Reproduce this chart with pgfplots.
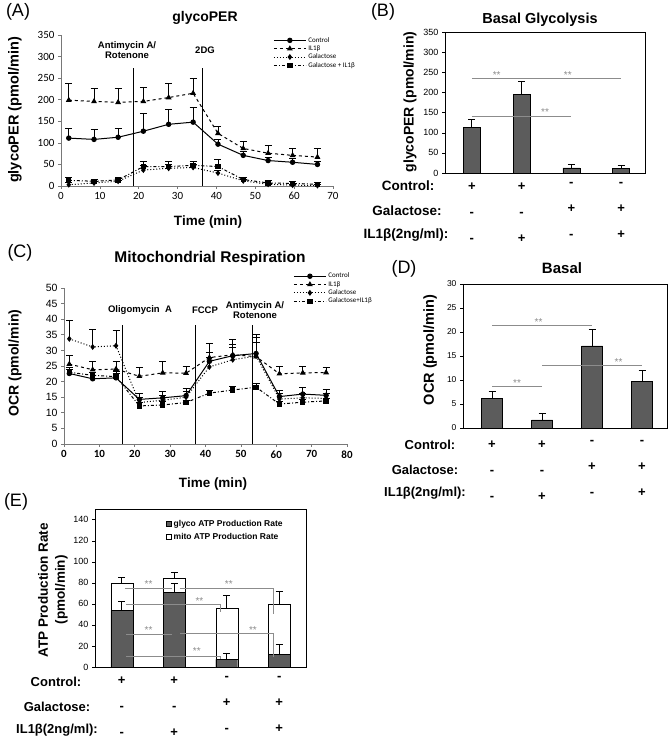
\documentclass[border=0pt]{standalone}
\usepackage{fontspec}
\setmainfont{Liberation Sans}
\newfontfamily\calfont{Carlito}
\usepackage{pgfplots}
\pgfplotsset{compat=1.18}
\definecolor{barg}{RGB}{92,92,92}
\definecolor{sig}{RGB}{140,140,140}
\definecolor{axg}{RGB}{120,120,120}
\newcommand{\fs}[1]{\fontsize{#1}{#1}\selectfont}
\tikzset{sg/.style={sig, font=\fs{10}}}
\pgfplotsset{
  common/.style={scale only axis, anchor=south west, clip=false,
    tick align=outside, major tick length=3pt,
    /pgf/number format/assume math mode=true},
  lineaxis/.style={common, axis lines*=left, axis line style={axg, line width=0.7pt}, tick style={axg, line width=0.7pt}},
  baraxis/.style={common, ybar, axis line style={black, line width=0.8pt}, ytick pos=left, xtick={0,1,2,3},
     major x tick style={draw=none}, tick style={black},
     xticklabels={{+\\-\\-},{+\\-\\+},{-\\+\\-},{-\\+\\+}},
     xticklabel style={align=center, font=\bfseries\fontsize{13}{26}\selectfont}},
  eb/.style={error bars/.cd, y dir=plus, y explicit, error bar style={line width=0.9pt, solid, black}, error mark options={rotate=90, mark size=3.5pt, line width=0.9pt, solid, black}},
  ser/.style={black, line width=1pt},
  sqlegend/.style={legend image code/.code={\draw[##1,line width=0.6pt] (0pt,-2.5pt) rectangle (5pt,2.5pt);}},
  longlegend/.style={legend image code/.code={\draw[mark repeat=2,mark phase=2] plot coordinates {(0pt,0pt) (16pt,0pt) (32pt,0pt)};}},
}
\begin{document}
\begin{tikzpicture}
\path[use as bounding box] (0,0) rectangle (669pt,740pt);

% ---------------- Panel A ----------------
\begin{axis}[lineaxis, at={(61pt,554pt)}, width=272pt, height=151pt,
  xmin=0, xmax=70, ymin=0, ymax=350, xtick={0,10,...,70}, ytick={0,50,...,350},
  tick label style={font=\calfont\fs{11}},
  legend style={at={(axis description cs:0.78,1.0)}, anchor=north west, draw=none, fill=none,
    font=\calfont\fs{7}, inner sep=0pt, row sep=-2pt},
  legend cell align=left, longlegend]
\addplot[ser, mark=*, mark size=2.2pt, eb] coordinates {
 (2,111)+-(0,23) (8.5,108)+-(0,22) (14.7,113)+-(0,21) (21.2,127)+-(0,41) (27.7,143)+-(0,35) (34,148)+-(0,34)
 (40.4,97)+-(0,12) (46.9,71)+-(0,8) (53.3,59)+-(0,8) (59.6,55)+-(0,8) (66,50)+-(0,8)};
\addlegendentry{Control}
\addplot[ser, dashed, mark=triangle*, mark size=2.4pt, mark options={solid}, eb] coordinates {
 (2,199)+-(0,39) (8.5,196)+-(0,31) (14.7,194)+-(0,32) (21.2,196)+-(0,33) (27.7,205)+-(0,33) (34,215)+-(0,35)
 (40.4,122)+-(0,16) (46.9,87)+-(0,16) (53.3,76)+-(0,17) (59.6,71)+-(0,16) (66,67)+-(0,19)};
\addlegendentry{IL1β}
\addplot[ser, dotted, mark=diamond*, mark size=2.2pt, mark options={solid}, eb] coordinates {
 (2,3)+-(0,5) (8.5,7)+-(0,4) (14.7,11)+-(0,3) (21.2,37)+-(0,10) (27.7,41)+-(0,8) (34,43)+-(0,8)
 (40.4,30)+-(0,6) (46.9,12)+-(0,4) (53.3,4)+-(0,3) (59.6,2)+-(0,2) (66,1)+-(0,2)};
\addlegendentry{Galactose}
\addplot[ser, dash dot, mark=square*, mark size=2.2pt, mark options={solid}, eb] coordinates {
 (2,13)+-(0,6) (8.5,11)+-(0,5) (14.7,14)+-(0,4) (21.2,45)+-(0,12) (27.7,45)+-(0,11) (34,48)+-(0,10)
 (40.4,45)+-(0,16) (46.9,15)+-(0,5) (53.3,7)+-(0,5) (59.6,6)+-(0,4) (66,4)+-(0,4)};
\addlegendentry{Galactose + IL1β}
\draw[black, line width=1pt] (axis cs:18.6,0) -- (axis cs:18.6,273);
\draw[black, line width=1pt] (axis cs:36.3,0) -- (axis cs:36.3,273);
\end{axis}

% ---------------- Panel B ----------------
\begin{axis}[baraxis, at={(445pt,567pt)}, width=200pt, height=141pt,
  xmin=-0.54, xmax=3.48, ymin=0, ymax=350, ytick={0,50,...,350}, bar width=17pt,
  yticklabel style={font=\fs{9}}, xticklabel style={yshift=-3pt}]
\addplot[fill=barg, draw=black, eb] coordinates {(0,113)+-(0,21) (1,195)+-(0,33) (2,13)+-(0,8) (3,12)+-(0,7)};
\draw[sig, line width=0.7pt] (axis cs:0,235) -- (axis cs:1,235);
\draw[sig, line width=0.7pt] (axis cs:1,235) -- (axis cs:3,235);
\draw[sig, line width=0.7pt] (axis cs:0,140) -- (axis cs:2,140);
\node[sg] at (axis cs:0.5,242) {**};
\node[sg] at (axis cs:1.93,242) {**};
\node[sg] at (axis cs:1.47,151) {**};
\end{axis}

% ---------------- Panel C ----------------
\begin{axis}[lineaxis, at={(64pt,296pt)}, width=283pt, height=156pt,
  xmin=0, xmax=80, ymin=0, ymax=50, xtick={0,10,...,80}, ytick={0,5,...,50},
  yticklabel style={font=\fs{10.5}}, xticklabel style={font=\calfont\bfseries\fs{11}},
  legend style={at={(axis description cs:0.81,1.11)}, anchor=north west, draw=none, fill=none,
    font=\calfont\fs{7}, inner sep=0pt, row sep=-2pt},
  legend cell align=left, longlegend]
\addplot[ser, mark=*, mark size=2.2pt, eb] coordinates {
 (1.5,22.6)+-(0,2) (8.1,20.9)+-(0,2) (14.7,21.2)+-(0,2) (21.3,14.3)+-(0,2) (27.9,14.8)+-(0,2) (34.5,15.5)+-(0,2.2)
 (41.1,26.5)+-(0,3) (47.7,28.3)+-(0,3.5) (54.3,29.0)+-(0,3.5) (60.9,15.2)+-(0,2) (67.5,16.0)+-(0,2) (74.1,15.6)+-(0,2)};
\addlegendentry{Control}
\addplot[ser, dashed, mark=triangle*, mark size=2.4pt, mark options={solid}, eb] coordinates {
 (1.5,25.6)+-(0,2.7) (8.1,23.8)+-(0,2.5) (14.7,24.0)+-(0,2.3) (21.3,21.7)+-(0,2.7) (27.9,22.8)+-(0,3.6) (34.5,22.7)+-(0,2)
 (41.1,27.7)+-(0,4.4) (47.7,28.6)+-(0,5) (54.3,28.0)+-(0,7) (60.9,22.5)+-(0,2.3) (67.5,22.8)+-(0,1.9) (74.1,22.9)+-(0,1.7)};
\addlegendentry{IL1β}
\addplot[ser, dotted, mark=diamond*, mark size=2.2pt, mark options={solid}, eb] coordinates {
 (1.5,33.7)+-(0,6) (8.1,31.1)+-(0,5.7) (14.7,31.5)+-(0,5) (21.3,13.3)+-(0,1.5) (27.9,14.0)+-(0,1.5) (34.5,15.0)+-(0,2)
 (41.1,24.7)+-(0,3) (47.7,27.0)+-(0,4) (54.3,28.2)+-(0,6) (60.9,14.4)+-(0,1.7) (67.5,14.8)+-(0,1.5) (74.1,14.6)+-(0,1.5)};
\addlegendentry{Galactose}
\addplot[ser, dash dot, mark=square*, mark size=2.2pt, mark options={solid}, eb] coordinates {
 (1.5,23.0)+-(0,1) (8.1,22.0)+-(0,1) (14.7,21.6)+-(0,1) (21.3,12.2)+-(0,1) (27.9,12.5)+-(0,1) (34.5,13.3)+-(0,0.8)
 (41.1,16.3)+-(0,1) (47.7,17.3)+-(0,1) (54.3,18.2)+-(0,1.3) (60.9,12.8)+-(0,0.8) (67.5,13.4)+-(0,0.8) (74.1,13.8)+-(0,0.8)};
\addlegendentry{Galactose+IL1β}
\draw[black, line width=1pt] (axis cs:16.5,0) -- (axis cs:16.5,38);
\draw[black, line width=1pt] (axis cs:37.1,0) -- (axis cs:37.1,38);
\draw[black, line width=1pt] (axis cs:53.3,0) -- (axis cs:53.3,38);
\end{axis}

% ---------------- Panel D ----------------
\begin{axis}[baraxis, at={(463pt,312pt)}, width=204pt, height=144pt,
  xmin=-0.58, xmax=3.5, ymin=0, ymax=30, ytick={0,5,...,30}, bar width=21pt,
  yticklabel style={font=\fs{8.5}}, xticklabel style={yshift=-6pt}]
\addplot[fill=barg, draw=black, eb] coordinates {(0,6.2)+-(0,1.5) (1,1.7)+-(0,1.3) (2,17.1)+-(0,3.5) (3,9.7)+-(0,2.2)};
\draw[sig, line width=0.7pt] (axis cs:0,21.3) -- (axis cs:2,21.3);
\draw[sig, line width=0.7pt] (axis cs:1,13.1) -- (axis cs:3,13.1);
\draw[sig, line width=0.7pt] (axis cs:0,8.7) -- (axis cs:1,8.7);
\node[sg] at (axis cs:0.93,22.0) {**};
\node[sg] at (axis cs:2.53,13.8) {**};
\node[sg] at (axis cs:0.5,9.4) {**};
\end{axis}

% ---------------- Panel E ----------------
\begin{axis}[baraxis, at={(95pt,73pt)}, width=211pt, height=158pt,
  xmin=-0.51, xmax=3.51, ymin=0, ymax=150, ytick={0,20,...,140}, bar width=22pt,
  yticklabel style={font=\fs{9}}, xticklabel style={yshift=-3pt}, reverse legend,
  legend style={at={(axis description cs:0.336,0.943)}, anchor=north west, draw=none, fill=none,
    font=\bfseries\fs{8.5}, inner sep=0pt, row sep=1pt},
  legend cell align=left]
\addplot[fill=white, draw=black, bar shift=0pt, sqlegend, eb]
  coordinates {(0,79.8)+-(0,4.8) (1,84.6)+-(0,4.7) (2,56.0)+-(0,12) (3,59.2)+-(0,12.7)};
\addlegendentry{mito ATP Production Rate}
\addplot[fill=barg, draw=black, bar shift=0pt, sqlegend, eb]
  coordinates {(0,53.8)+-(0,8.6) (1,70.6)+-(0,9) (2,7.3)+-(0,6) (3,11.7)+-(0,9.5)};
\addlegendentry{glyco ATP Production Rate}
\draw[sig, line width=0.7pt] (axis cs:0.06,75) -- (axis cs:0.95,75);
\draw[sig, line width=0.7pt] (axis cs:1.1,75) -- (axis cs:2.89,75) -- (axis cs:2.89,50.6);
\draw[sig, line width=0.7pt] (axis cs:0.08,59.6) -- (axis cs:1.87,59.6) -- (axis cs:1.87,52.3);
\draw[sig, line width=0.7pt] (axis cs:0.08,30.7) -- (axis cs:0.95,30.7);
\draw[sig, line width=0.7pt] (axis cs:1.11,31.7) -- (axis cs:2.89,31.7) -- (axis cs:2.89,9.5);
\draw[sig, line width=0.7pt] (axis cs:0.08,10.4) -- (axis cs:1.88,10.4) -- (axis cs:1.88,7.9);
\node[sg] at (axis cs:0.51,79) {**};
\node[sg] at (axis cs:2.04,79) {**};
\node[sg] at (axis cs:1.48,63) {**};
\node[sg] at (axis cs:0.51,35) {**};
\node[sg] at (axis cs:2.5,35) {**};
\node[sg] at (axis cs:1.43,15) {**};
\end{axis}

% ---------------- Text in image coordinates ----------------
\begin{scope}[shift={(0,740pt)}, x=1pt, y=-1pt]
% A
\node[font=\fs{18}] at (18,12) {(A)};
\node[font=\bfseries\fs{14}] at (205,18) {glycoPER};
\node[font=\bfseries\fs{14.5}, rotate=90] at (15,110) {glycoPER (pmol/min)};
\node[font=\bfseries\fs{13.5}] at (208,222) {Time (min)};
\node[font=\bfseries\fontsize{9.5}{10.5}\selectfont, align=center] at (127,50) {Antimycin A/\\Rotenone};
\node[font=\bfseries\fs{9.5}] at (205,50) {2DG};
% B
\node[font=\fs{18}] at (383,12) {(B)};
\node[font=\bfseries\fs{14.5}] at (540,20) {Basal Glycolysis};
\node[font=\bfseries\fs{14}, rotate=90] at (410,102) {glycoPER (pmol/min)};
\node[font=\bfseries\fs{13.5}] at (408,186) {Control:};
\node[font=\bfseries\fs{13.5}] at (407,211) {Galactose:};
\node[font=\bfseries\fs{13.5}] at (406,235) {IL1β(2ng/ml):};
% C
\node[font=\fs{18}] at (20,253) {(C)};
\node[font=\bfseries\fs{15.5}] at (210,258) {Mitochondrial Respiration};
\node[font=\bfseries\fs{14}, rotate=90] at (15,363) {OCR (pmol/min)};
\node[font=\bfseries\fs{13.5}] at (213,484) {Time (min)};
\node[font=\bfseries\fs{9.5}] at (140,310) {Oligomycin\ \ A};
\node[font=\bfseries\fs{9.5}] at (205,310) {FCCP};
\node[font=\bfseries\fontsize{9.5}{10.5}\selectfont, align=center] at (255,310) {Antimycin A/\\Rotenone};
% D
\node[font=\fs{18}] at (404,269) {(D)};
\node[font=\bfseries\fs{15}] at (562,268) {Basal};
\node[font=\bfseries\fs{14.5}, rotate=90] at (430,350) {OCR (pmol/min)};
\node[font=\bfseries\fs{13}] at (430,445) {Control:};
\node[font=\bfseries\fs{13}] at (425,470) {Galactose:};
\node[font=\bfseries\fs{13}] at (425,493) {IL1β(2ng/ml):};
% E
\node[font=\fs{18}] at (16,502) {(E)};
\node[font=\bfseries\fontsize{13.5}{17}\selectfont, rotate=90, align=center] at (53,590) {ATP Production Rate\\(pmol/min)};
\node[font=\bfseries\fs{13}] at (56,682) {Control:};
\node[font=\bfseries\fs{13}] at (57,707) {Galactose:};
\node[font=\bfseries\fs{13}] at (57,730) {IL1β(2ng/ml):};
\end{scope}
\end{tikzpicture}
\end{document}
